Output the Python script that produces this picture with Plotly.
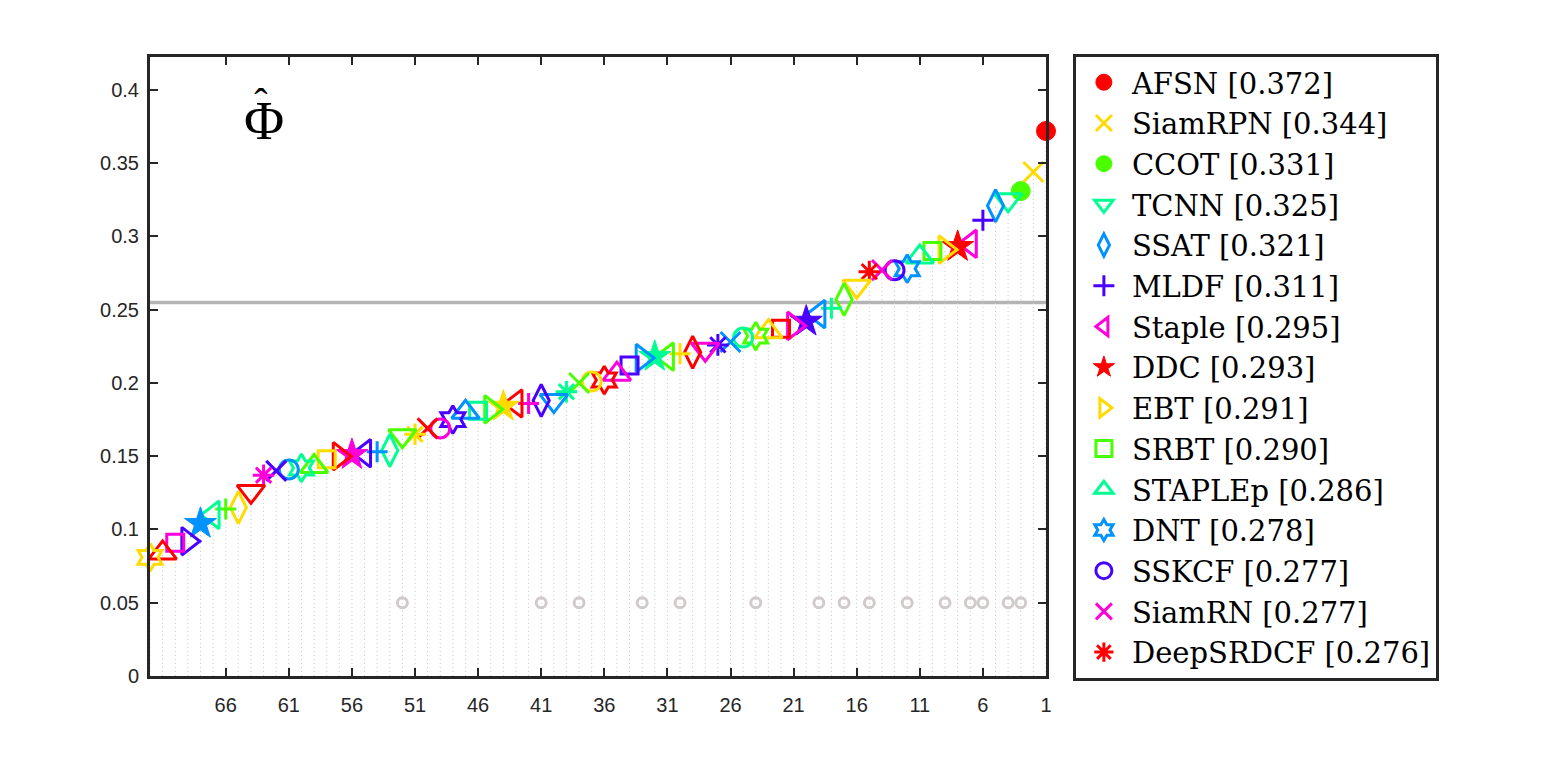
import colorsys
import plotly.graph_objects as go

# ---------------- data ----------------
ranks = list(range(1, 73))
scores = [0.372, 0.344, 0.331, 0.325, 0.321, 0.311, 0.295, 0.293, 0.291, 0.290,
          0.286, 0.278, 0.277, 0.277, 0.276, 0.266, 0.257, 0.251, 0.247, 0.242,
          0.239, 0.237, 0.235, 0.232, 0.231, 0.228, 0.226, 0.223, 0.221, 0.220,
          0.218, 0.218, 0.217, 0.212, 0.206, 0.202, 0.201, 0.200, 0.194, 0.188,
          0.188, 0.186, 0.186, 0.184, 0.182, 0.181, 0.180, 0.175, 0.169, 0.169,
          0.165, 0.164, 0.154, 0.153, 0.152, 0.151, 0.150, 0.148, 0.143, 0.142,
          0.141, 0.140, 0.137, 0.126, 0.115, 0.114, 0.110, 0.104, 0.092, 0.091,
          0.084, 0.081]
legend_names = ["AFSN", "SiamRPN", "CCOT", "TCNN", "SSAT", "MLDF", "Staple", "DDC",
                "EBT", "SRBT", "STAPLEp", "DNT", "SSKCF", "SiamRN", "DeepSRDCF"]
marked_ranks = [52, 41, 38, 33, 30, 24, 19, 17, 15, 12, 9, 7, 6, 4, 3]
marked_level = 0.05
threshold = 0.255
x_tick_vals = [66, 61, 56, 51, 46, 41, 36, 31, 26, 21, 16, 11, 6, 1]
y_tick_vals = [0, 0.05, 0.1, 0.15, 0.2, 0.25, 0.3, 0.35, 0.4]
y_tick_text = ["0", "0.05", "0.1", "0.15", "0.2", "0.25", "0.3", "0.35", "0.4"]
metric_symbol, metric_hat = "\u03a6", "\u02c6"   # Φ with a hat

# ---------------- styles ----------------
def hsv_hex(h):
    r, g, b = colorsys.hsv_to_rgb(h, 1, 1)
    return "#%02x%02x%02x" % (round(r * 255), round(g * 255), round(b * 255))

palette = [hsv_hex(i / 7) for i in range(7)]
symbol_cycle = ["circle-open", "x-thin-open", "asterisk-open", "triangle-down-open",
                "diamond-tall-open", "cross-thin-open", "triangle-left-open", "star",
                "triangle-right-open", "square-open", "triangle-up-open", "hexagram-open"]
size_of = {"circle-open": 19, "circle": 19, "x-thin-open": 20, "asterisk-open": 18,
           "triangle-down-open": 24, "diamond-tall-open": 23, "cross-thin-open": 15,
           "triangle-left-open": 24, "star": 24, "triangle-right-open": 24,
           "square-open": 17, "triangle-up-open": 24, "hexagram-open": 21}
filled_ranks = {1, 3}
AX = "#262626"

fig = go.Figure()

# dotted stems from 0 up to each score
sx, sy = [], []
for r, s in zip(ranks, scores):
    sx += [r, r, None]
    sy += [0, s, None]
fig.add_trace(go.Scatter(x=sx, y=sy, mode="lines", showlegend=False, hoverinfo="skip",
                         line=dict(color="#c8c8c8", width=1, dash="1px,3px")))

# marked trackers
fig.add_trace(go.Scatter(x=marked_ranks, y=[marked_level] * len(marked_ranks), mode="markers",
                         showlegend=False, cliponaxis=False,
                         marker=dict(symbol="circle-open", size=10, color="#d0caca",
                                     line=dict(color="#d0caca", width=3))))

# trackers
for i, (r, s) in enumerate(zip(ranks, scores)):
    col = palette[i % 7]
    sym = "circle" if r in filled_ranks else symbol_cycle[i % 12]
    lw = 1 if sym in ("circle", "star") else 3
    name = f"{legend_names[i]} [{s:.3f}]" if i < len(legend_names) else f"#{r}"
    fig.add_trace(go.Scatter(
        x=[r], y=[s], mode="markers", name=name,
        showlegend=i < len(legend_names), cliponaxis=False,
        marker=dict(symbol=sym, size=size_of[sym], color=col,
                    line=dict(color=col, width=lw))))

fig.add_shape(type="line", xref="paper", yref="y", x0=0, x1=1, y0=threshold, y1=threshold,
              line=dict(color="#b4b4b4", width=3.5), layer="below")

fig.add_annotation(
    x=0.1027, y=0.966, xref="paper", yref="paper", showarrow=False,
    text=(f"<span style='letter-spacing:-30px'>{metric_symbol}</span>"
          f"<span style='font-size:40px;baseline-shift:23px'>{metric_hat}</span>"),
    font=dict(family="Liberation Serif", size=55, color="black"))

fig.update_layout(
    width=1525, height=744,
    margin=dict(l=142, r=487, t=49, b=76),
    paper_bgcolor="white", plot_bgcolor="white",
    font=dict(family="Liberation Sans", size=20, color=AX),
    showlegend=True,
    legend=dict(x=1.03, y=1.005, xanchor="left", yanchor="top",
                bordercolor=AX, borderwidth=3, bgcolor="white", maxheight=1000,
                font=dict(family="DejaVu Serif", size=29, color="black"),
                tracegroupgap=0, itemwidth=46),
    xaxis=dict(range=[72, 1], tickvals=x_tick_vals, ticktext=[str(v) for v in x_tick_vals],
               ticks="inside", ticklen=8, tickwidth=2, tickcolor=AX, mirror="allticks",
               showline=True, linecolor=AX, linewidth=3, showgrid=False, zeroline=False,
               tickfont=dict(size=20, color=AX), ticklabelstandoff=9),
    yaxis=dict(range=[0, 0.4225], tickvals=y_tick_vals, ticktext=y_tick_text,
               ticks="inside", ticklen=8, tickwidth=2, tickcolor=AX, mirror="allticks",
               showline=True, linecolor=AX, linewidth=3, showgrid=False, zeroline=False,
               tickfont=dict(size=20, color=AX), ticklabelstandoff=4),
)

fig.write_html("out.html")
